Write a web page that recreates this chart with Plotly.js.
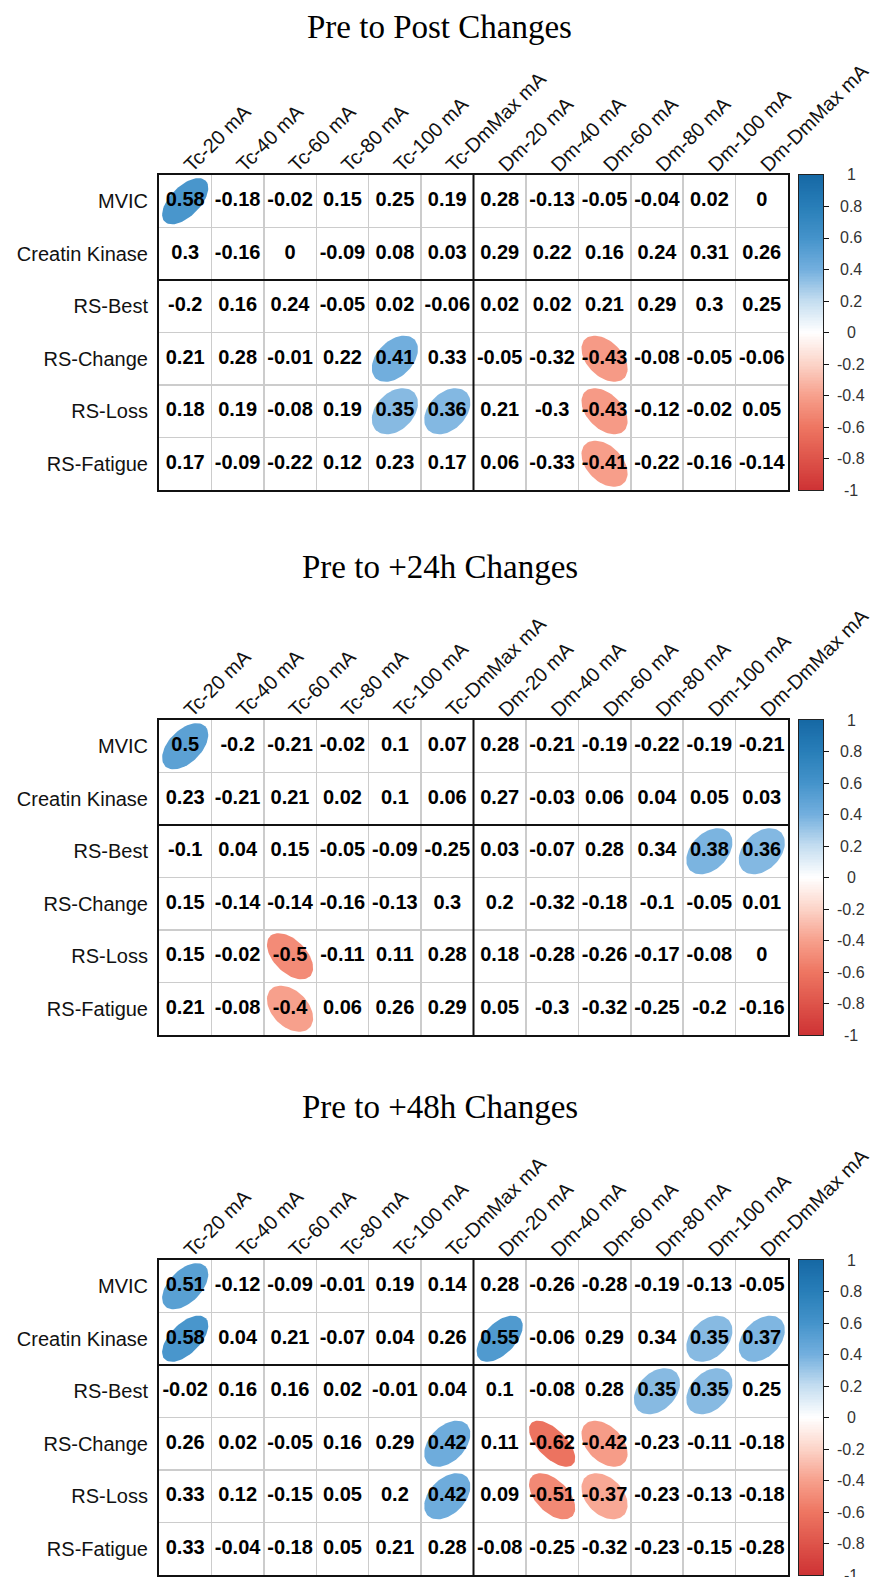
<!DOCTYPE html>
<html>
<head>
<meta charset="utf-8">
<script src="https://cdn.plot.ly/plotly-3.0.1.min.js"></script>
<style>html,body{margin:0;padding:0;background:#fff;}</style>
</head>
<body>
<div id="chart" style="width:871px;height:1577px;"></div>
<script>
// ---------------- DATA ----------------
const columns = ["Tc-20 mA","Tc-40 mA","Tc-60 mA","Tc-80 mA","Tc-100 mA","Tc-DmMax mA",
                 "Dm-20 mA","Dm-40 mA","Dm-60 mA","Dm-80 mA","Dm-100 mA","Dm-DmMax mA"];
const rows = ["MVIC","Creatin Kinase","RS-Best","RS-Change","RS-Loss","RS-Fatigue"];
const panelTitles = ["Pre to Post Changes","Pre to +24h Changes","Pre to +48h Changes"];

const prePost = [
  [0.58,-0.18,-0.02,0.15,0.25,0.19,0.28,-0.13,-0.05,-0.04,0.02,0],
  [0.3,-0.16,0,-0.09,0.08,0.03,0.29,0.22,0.16,0.24,0.31,0.26],
  [-0.2,0.16,0.24,-0.05,0.02,-0.06,0.02,0.02,0.21,0.29,0.3,0.25],
  [0.21,0.28,-0.01,0.22,0.41,0.33,-0.05,-0.32,-0.43,-0.08,-0.05,-0.06],
  [0.18,0.19,-0.08,0.19,0.35,0.36,0.21,-0.3,-0.43,-0.12,-0.02,0.05],
  [0.17,-0.09,-0.22,0.12,0.23,0.17,0.06,-0.33,-0.41,-0.22,-0.16,-0.14]
];
const pre24h = [
  [0.5,-0.2,-0.21,-0.02,0.1,0.07,0.28,-0.21,-0.19,-0.22,-0.19,-0.21],
  [0.23,-0.21,0.21,0.02,0.1,0.06,0.27,-0.03,0.06,0.04,0.05,0.03],
  [-0.1,0.04,0.15,-0.05,-0.09,-0.25,0.03,-0.07,0.28,0.34,0.38,0.36],
  [0.15,-0.14,-0.14,-0.16,-0.13,0.3,0.2,-0.32,-0.18,-0.1,-0.05,0.01],
  [0.15,-0.02,-0.5,-0.11,0.11,0.28,0.18,-0.28,-0.26,-0.17,-0.08,0],
  [0.21,-0.08,-0.4,0.06,0.26,0.29,0.05,-0.3,-0.32,-0.25,-0.2,-0.16]
];
const pre48h = [
  [0.51,-0.12,-0.09,-0.01,0.19,0.14,0.28,-0.26,-0.28,-0.19,-0.13,-0.05],
  [0.58,0.04,0.21,-0.07,0.04,0.26,0.55,-0.06,0.29,0.34,0.35,0.37],
  [-0.02,0.16,0.16,0.02,-0.01,0.04,0.1,-0.08,0.28,0.35,0.35,0.25],
  [0.26,0.02,-0.05,0.16,0.29,0.42,0.11,-0.62,-0.42,-0.23,-0.11,-0.18],
  [0.33,0.12,-0.15,0.05,0.2,0.42,0.09,-0.51,-0.37,-0.23,-0.13,-0.18],
  [0.33,-0.04,-0.18,0.05,0.21,0.28,-0.08,-0.25,-0.32,-0.23,-0.15,-0.28]
];
const panels = [prePost, pre24h, pre48h];
// correlations at or above this magnitude were marked significant (ellipse drawn)
const SIG_LEVEL = 0.35;
const colorbarTicks = [1,0.8,0.6,0.4,0.2,0,-0.2,-0.4,-0.6,-0.8,-1];
const colorbarTickMarks = [0.8,0.6,0.4,0.2,0,-0.2,-0.4,-0.6,-0.8];
const nTcColumns = 6;   // group split (Tc | Dm)
const nTopRows = 2;     // group split (MVIC, CK | RS-*)

// ---------------- STYLE ----------------
const colorStops = [
  [0.0,[206,50,52]],[0.1,[222,84,74]],[0.2,[238,118,98]],[0.3,[247,160,140]],
  [0.4,[252,212,200]],[0.5,[255,255,255]],[0.6,[196,221,240]],[0.7,[115,175,222]],
  [0.8,[68,147,202]],[0.9,[40,126,184]],[1.0,[22,104,164]]
];
const colorscale = colorStops.map(s => [s[0], 'rgb(' + s[1].join(',') + ')']);
function colorFor(r){
  const t = (r + 1) / 2;
  for (let i = 1; i < colorStops.length; i++){
    if (t <= colorStops[i][0]){
      const a = colorStops[i-1], b = colorStops[i];
      const f = (t - a[0]) / (b[0] - a[0]);
      const c = a[1].map((v,k) => Math.round(v + f*(b[1][k]-v)));
      return 'rgb(' + c.join(',') + ')';
    }
  }
  return 'rgb(' + colorStops[colorStops.length-1][1].join(',') + ')';
}

const W = 871, H = 1577;
const gridLeft = 159, gridRight = 788, gridH = 315;
const gridTops = [175, 720, 1260];
const titleY = [27, 567, 1107];
const cbLeft = 799, cbRight = 823;
const ELL_SCALE = 0.88;

const traces = [];
const layout = {
  width: W, height: H,
  margin: {l:0, r:0, t:0, b:0},
  paper_bgcolor: '#fff', plot_bgcolor: 'rgba(0,0,0,0)',
  showlegend: false,
  font: {family: 'Liberation Sans, Arial, sans-serif', color: '#111'},
  shapes: [], annotations: []
};

const half = [];
for (let i = 1; i < columns.length; i++) half.push(i + 0.5);
const halfRows = [];
for (let i = 1; i < rows.length; i++) halfRows.push(i + 0.5);

panels.forEach((data, p) => {
  const xa = 'x' + (p === 0 ? '' : p + 1), ya = 'y' + (p === 0 ? '' : p + 1);
  const xKey = 'xaxis' + (p === 0 ? '' : p + 1), yKey = 'yaxis' + (p === 0 ? '' : p + 1);
  const top = gridTops[p];
  const yDom = [1 - (top + gridH) / H, 1 - top / H];

  layout[xKey] = {
    domain: [gridLeft / W, gridRight / W], anchor: ya,
    range: [0.5, columns.length + 0.5], side: 'top',
    tickvals: columns.map((c,i) => i + 1), ticktext: columns,
    tickangle: -45, tickfont: {size: 20, color: '#111'},
    ticks: '', ticklabelstandoff: -11,
    ticklabeloverflow: 'allow',
    showgrid: false, zeroline: false,
    minor: {tickvals: half, showgrid: true, gridcolor: '#cccccc', gridwidth: 1.5, ticks: ''},
    showline: true, mirror: true, linecolor: '#111', linewidth: 2,
    fixedrange: true
  };
  layout[yKey] = {
    domain: yDom, anchor: xa,
    range: [rows.length + 0.5, 0.5],
    tickvals: rows.map((r,i) => i + 1), ticktext: rows,
    tickfont: {size: 20, color: '#111'},
    ticks: '', ticklabelstandoff: 5,
    showgrid: false, zeroline: false,
    minor: {tickvals: halfRows, showgrid: true, gridcolor: '#cccccc', gridwidth: 1.5, ticks: ''},
    showline: true, mirror: true, linecolor: '#111', linewidth: 2,
    fixedrange: true
  };

  // group separator lines
  layout.shapes.push({type: 'line', xref: xa, yref: ya, layer: 'above',
    x0: nTcColumns + 0.5, x1: nTcColumns + 0.5, y0: 0.5, y1: rows.length + 0.5,
    line: {color: '#111', width: 2}});
  layout.shapes.push({type: 'line', xref: xa, yref: ya, layer: 'above',
    x0: 0.5, x1: columns.length + 0.5, y0: nTopRows + 0.5, y1: nTopRows + 0.5,
    line: {color: '#111', width: 2}});

  // ellipses for significant correlations
  data.forEach((row, ri) => {
    row.forEach((r, ci) => {
      if (Math.abs(r) < SIG_LEVEL) return;
      const d = Math.acos(r);
      const xs = [], ys = [];
      for (let k = 0; k <= 72; k++){
        const t = 2 * Math.PI * k / 72;
        xs.push(ci + 1 + ELL_SCALE * Math.cos(t + d/2) / 2);
        ys.push(ri + 1 - ELL_SCALE * Math.cos(t - d/2) / 2);
      }
      traces.push({type: 'scatter', mode: 'lines', x: xs, y: ys, xaxis: xa, yaxis: ya,
        fill: 'toself', fillcolor: colorFor(r), line: {width: 0, color: colorFor(r)},
        hoverinfo: 'skip'});
    });
  });

  // numbers
  const tx = [], ty = [], tt = [];
  data.forEach((row, ri) => row.forEach((r, ci) => {
    tx.push(ci + 1); ty.push(ri + 1); tt.push(String(r));
  }));
  traces.push({type: 'scatter', mode: 'text', x: tx, y: ty, text: tt,
    xaxis: xa, yaxis: ya, textposition: 'middle center',
    textfont: {size: 20, color: '#000', family: 'Liberation Sans, Arial, sans-serif', weight: 'bold'},
    hoverinfo: 'skip'});

  // panel title
  layout.annotations.push({xref: 'paper', yref: 'paper', x: 440 / W, y: 1 - titleY[p] / H,
    xanchor: 'center', yanchor: 'middle', showarrow: false, text: panelTitles[p],
    font: {family: 'Liberation Serif, Times New Roman, serif', size: 33, color: '#000'}});

  // colour legend bar
  const cx = 'x' + (p + 4), cy = 'y' + (p + 4);
  layout['xaxis' + (p + 4)] = {
    domain: [cbLeft / W, cbRight / W], anchor: cy, range: [-0.5, 0.5],
    showticklabels: false, ticks: '', showgrid: false, zeroline: false,
    showline: true, mirror: true, linecolor: '#222', linewidth: 1, fixedrange: true
  };
  layout['yaxis' + (p + 4)] = {
    domain: yDom, anchor: cx, range: [-1, 1], side: 'right',
    tickvals: colorbarTickMarks, showticklabels: false,
    ticks: 'outside', ticklen: 5, tickwidth: 1, tickcolor: '#111',
    showgrid: false, zeroline: false,
    showline: true, mirror: true, linecolor: '#222', linewidth: 1, fixedrange: true
  };
  const gy = [], gz = [];
  for (let k = 0; k < 200; k++){ const v = -1 + (k + 0.5) / 100; gy.push(v); gz.push([v]); }
  traces.push({type: 'heatmap', x: [0], y: gy, z: gz, xaxis: cx, yaxis: cy,
    colorscale: colorscale, zmin: -1, zmax: 1, showscale: false, hoverinfo: 'skip'});
  colorbarTicks.forEach(v => {
    layout.annotations.push({xref: 'paper', yref: cy, x: 851 / W, y: v,
      xanchor: 'center', yanchor: 'middle', showarrow: false, text: String(v),
      font: {size: 16, color: '#333', family: 'Liberation Sans, Arial, sans-serif'}});
  });
});

Plotly.newPlot('chart', traces, layout, {staticPlot: true, displayModeBar: false});
</script>
</body>
</html>
